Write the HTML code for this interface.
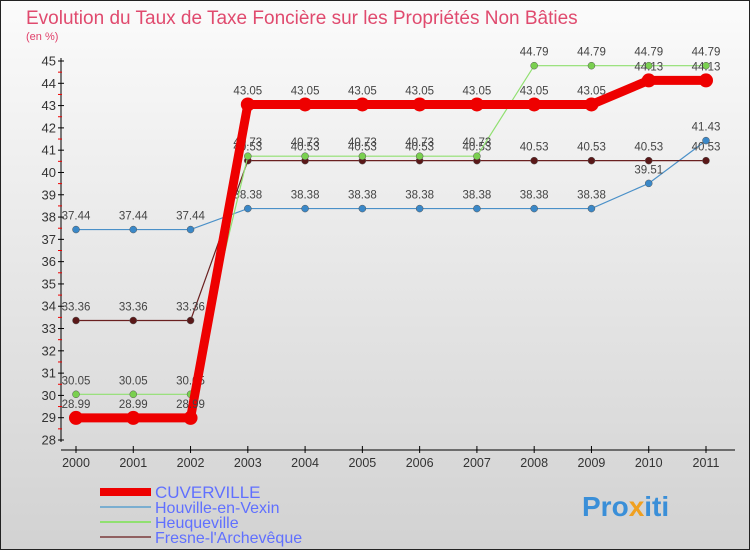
<!DOCTYPE html>
<html><head><meta charset="utf-8"><style>
body{margin:0;width:750px;height:550px;overflow:hidden}
svg{display:block;font-family:"Liberation Sans",sans-serif}
</style></head><body>
<svg id="c" width="750" height="550" xmlns="http://www.w3.org/2000/svg">
<defs><linearGradient id="bg" x1="0" y1="0" x2="0" y2="1"><stop offset="0" stop-color="#fbfbfb"/><stop offset="1" stop-color="#d2d2d2"/></linearGradient></defs>
<rect x="0.5" y="0.5" width="749" height="549" fill="url(#bg)" stroke="#222"/>
<text x="26" y="24" font-size="19" fill="#e04a6e">Evolution du Taux de Taxe Foncière sur les Propriétés Non Bâties</text>
<text x="26" y="40" font-size="11" fill="#e0406a">(en %)</text>
<g id="axes"></g><g id="series"></g><g id="legend"></g>
<text x="582" y="516" font-size="28" font-weight="bold" fill="#3a8fd8">Pro<tspan fill="#f0a020">x</tspan>iti</text>
</svg>
<script>
const years=[2000,2001,2002,2003,2004,2005,2006,2007,2008,2009,2010,2011];
const cuverville=[28.99,28.99,28.99,43.05,43.05,43.05,43.05,43.05,43.05,43.05,44.13,44.13];
const houville=[37.44,37.44,37.44,38.38,38.38,38.38,38.38,38.38,38.38,38.38,39.51,41.43];
const heuqueville=[30.05,30.05,30.05,40.73,40.73,40.73,40.73,40.73,44.79,44.79,44.79,44.79];
const fresne=[33.36,33.36,33.36,40.53,40.53,40.53,40.53,40.53,40.53,40.53,40.53,40.53];
const yTicks=[28,29,30,31,32,33,34,35,36,37,38,39,40,41,42,43,44,45];
const NS="http://www.w3.org/2000/svg";
const X=i=>76+i*(630/11);
const Y=v=>440-(v-28)*(379/17);
function mk(t,a,p){const e=document.createElementNS(NS,t);for(const k in a)e.setAttribute(k,a[k]);p.appendChild(e);return e;}
const ax=document.getElementById('axes');
let l=mk('line',{x1:61,y1:58,x2:61,y2:442,stroke:'#000'},ax);


l=mk('line',{x1:61,y1:450,x2:735,y2:450,stroke:'#000'},ax);


yTicks.forEach(v=>{
 mk('line',{x1:58,y1:Y(v),x2:64,y2:Y(v),stroke:'#000'},ax);
 if(v<45)mk('line',{x1:58,y1:Y(v+0.5),x2:62,y2:Y(v+0.5),stroke:'#e00'},ax);
 const t=mk('text',{x:56,y:Y(v)+4.5,'font-size':13,'text-anchor':'end',fill:'#333'},ax);t.textContent=v;
 
 
});
years.forEach((yr,i)=>{
 mk('line',{x1:X(i),y1:446,x2:X(i),y2:453,stroke:'#000'},ax);
 const t=mk('text',{x:X(i),y:467,'font-size':12.5,'text-anchor':'middle',fill:'#333'},ax);t.textContent=yr;
 
 
});
const sg=document.getElementById('series');
function series(vals,color,w,r,name,fill){
 const g=mk('g',{},sg);
 
 
 mk('polyline',{points:vals.map((v,i)=>X(i)+','+Y(v)).join(' '),fill:'none',stroke:color,'stroke-width':w},g);
 vals.forEach((v,i)=>{
  const c=mk('circle',{cx:X(i),cy:Y(v),r:r,fill:fill,stroke:w>3?'none':'#555','stroke-width':0.5},g);
  
  
  const t=mk('text',{x:X(i),y:Y(v)-10,'font-size':11.5,'text-anchor':'middle',fill:'#444'},g);
  t.textContent=String(v);
  
  
 });
}
series(houville,'#4a90c8',1.2,3.5,'houville-series','#3a88c8');
series(fresne,'#6a2020',1.2,3.5,'fresne-series','#5a1818');
series(heuqueville,'#90e070',1.2,3.5,'heuqueville-series','#7ad050');
series(cuverville,'#ee0000',9,7,'cuverville-series','#ee0000');
const lg=document.getElementById('legend');
[['CUVERVILLE','#ee0000',8],['Houville-en-Vexin','#7aaed0',2],['Heuqueville','#90e070',2],['Fresne-l\'Archevêque','#906060',2]].forEach((d,i)=>{
 const y=492+i*15;
 const g=mk('g',{},lg);
 
 
 mk('line',{x1:100,y1:y,x2:151,y2:y,stroke:d[1],'stroke-width':d[2]},g);
 const t=mk('text',{x:155,y:y+6,'font-size':i==0?17:16,fill:'#6070ff'},g);t.textContent=d[0];
});
</script>
</body></html>
